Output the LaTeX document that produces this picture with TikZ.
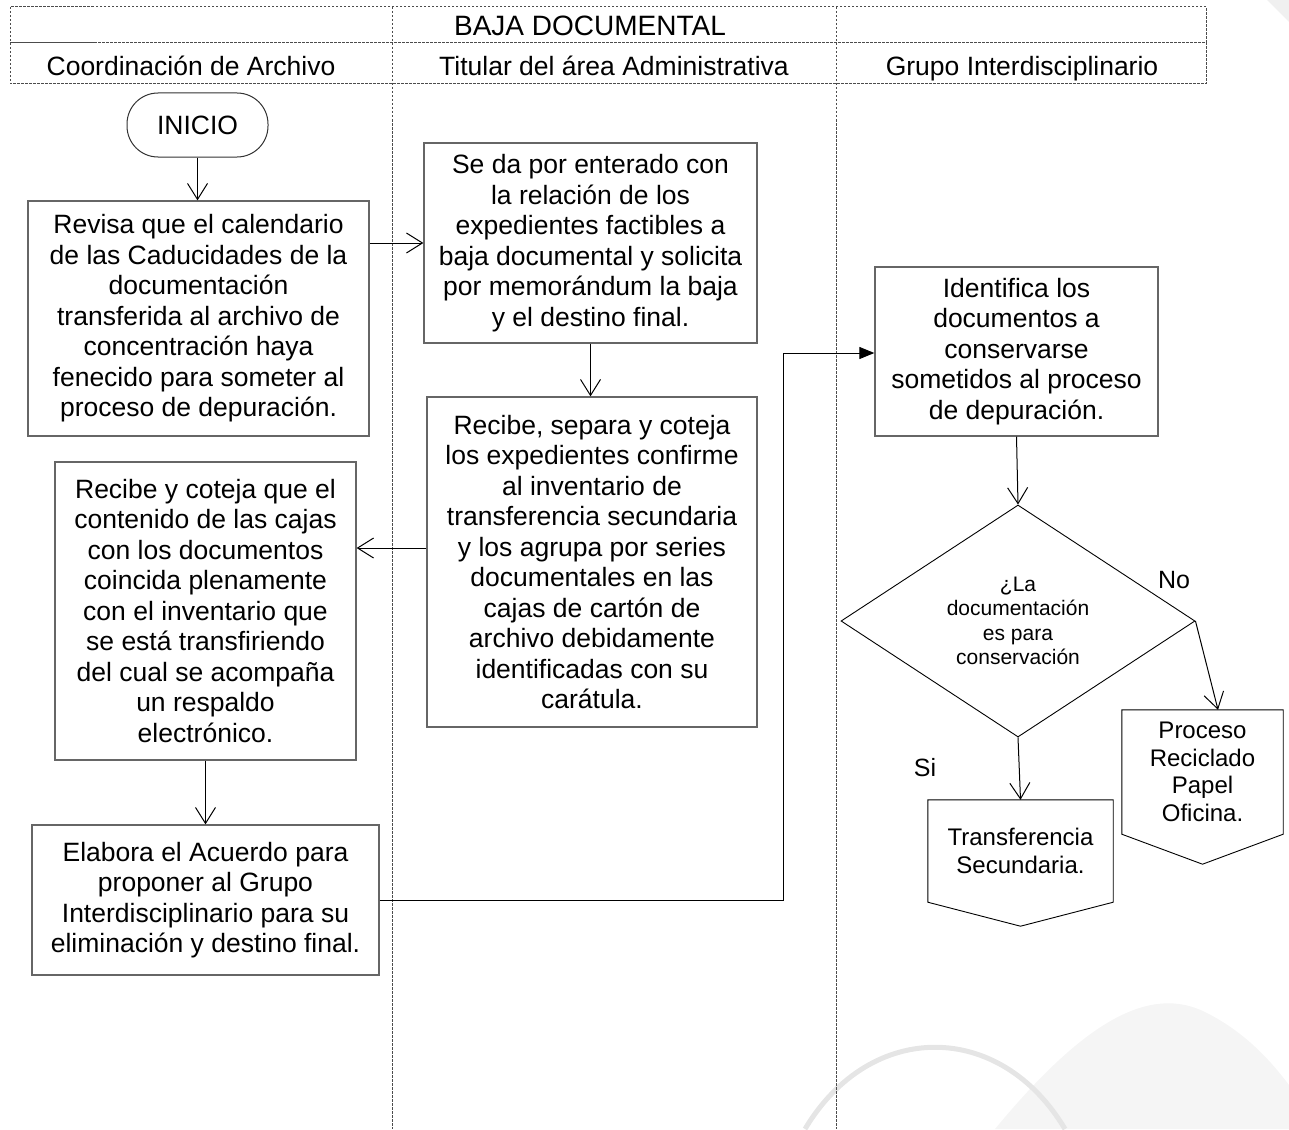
\documentclass[tikz,border=0pt]{standalone}
\usepackage{fontspec}
\setmainfont{Liberation Sans}
\usetikzlibrary{calc}
\usetikzlibrary{arrows.meta}
\usetikzlibrary{shapes.geometric}
\tikzset{
	lane/.style={draw=black!70, line width=1pt, dash pattern=on 2.5pt off 1.5pt},
	paso/.style={draw=black!60, line width=1.3pt, align=center, inner sep=2pt, font=\fontsize{26.5}{30.5}\selectfont},
	terminal/.style={draw=black!80, line width=1pt, rounded corners=31pt, minimum width=141pt, minimum height=64pt, font=\fontsize{26.5}{30.5}\selectfont},
	decision/.style={diamond, aspect=1.5, draw=black, line width=0.9pt, inner sep=0pt, minimum width=354pt, minimum height=232pt, align=center, font=\fontsize{21}{24.5}\selectfont},
	salida/.style={inner sep=0pt, align=center, font=\fontsize{24}{27.5}\selectfont},
	borde/.style={draw=black, line width=0.9pt},
	titulo/.style={inner sep=0pt, anchor=base, font=\fontsize{26.5}{30}\selectfont},
	etiqueta/.style={inner sep=0pt, font=\fontsize{25}{28}\selectfont},
	flujo/.style={draw=black, line width=1pt, -{Straight Barb[length=16pt,width=20pt]}},
	enlace/.style={draw=black, line width=1pt, -{Triangle[length=15pt,width=12pt]}},
}
\begin{document}
\begin{tikzpicture}[x=1pt,y=-1pt]
	\useasboundingbox (0,0) rectangle (1289,1129);
	% fondo
	\fill[black!4] (995,1129) .. controls (1085,1020) and (1150,985) .. (1205,1012) .. controls (1245,1032) and (1270,1060) .. (1289,1085) -- (1289,1129) -- cycle;
	\draw[black!10, line width=5pt] (805,1129) .. controls (870,1020) and (1000,1020) .. (1065,1129);
	\fill[black!6] (1267,0) -- (1289,0) -- (1289,22) -- cycle;
	% carriles
	\draw[lane] (10,7) rectangle (1206,43);
	\draw[lane] (10,43) rectangle (1206,84);
	\draw[lane] (392,7) -- (392,1129);
	\draw[lane] (836,7) -- (836,1129);
	\node[titulo, font=\fontsize{28}{30}\selectfont] (baja) at (590,36) {BAJA DOCUMENTAL};
	\node[titulo] (coord) at (191,76) {Coordinación de Archivo};
	\node[titulo] (titular) at (614,76) {Titular del área Administrativa};
	\node[titulo] (grupo) at (1022,76) {Grupo Interdisciplinario};
	% pasos
	\node[terminal] (inicio) at (197.5,125) {INICIO};
	\node[paso, minimum width=341pt, minimum height=235pt] (revisa) at (198.5,318.5) {Revisa que el calendario\\de las Caducidades de la\\documentación\\transferida al archivo de\\concentración haya\\fenecido para someter al\\proceso de depuración.};
	\node[paso, minimum width=333pt, minimum height=200pt] (enterado) at (590.5,243) {Se da por enterado con\\la relación de los\\expedientes factibles a\\baja documental y solicita\\por memorándum la baja\\y el destino final.};
	\node[paso, minimum width=330pt, minimum height=330pt] (separa) at (592,562) {Recibe, separa y coteja\\los expedientes confirme\\al inventario de\\transferencia secundaria\\y los agrupa por series\\documentales en las\\cajas de cartón de\\archivo debidamente\\identificadas con su\\carátula.};
	\node[paso, minimum width=301pt, minimum height=298pt] (coteja) at (205.5,611) {Recibe y coteja que el\\contenido de las cajas\\con los documentos\\coincida plenamente\\con el inventario que\\se está transfiriendo\\del cual se acompaña\\un respaldo\\electrónico.};
	\node[paso, minimum width=347pt, minimum height=150pt] (elabora) at (205.5,900) {Elabora el Acuerdo para\\proponer al Grupo\\Interdisciplinario para su\\eliminación y destino final.};
	\node[paso, minimum width=283pt, minimum height=169pt] (identifica) at (1016.5,351.5) {Identifica los\\documentos a\\conservarse\\sometidos al proceso\\de depuración.};
	\node[decision] (conserva) at (1018,621) {¿La\\documentación\\es para\\conservación};
	\node[salida, minimum width=185pt, minimum height=102pt] (transfer) at (1020.5,851) {Transferencia\\Secundaria.};
	\draw[borde] (transfer.north west) -- (transfer.north east) -- (transfer.south east) -- ($(transfer.south)+(0,24)$) -- (transfer.south west) -- cycle;
	\node[salida, minimum width=161pt, minimum height=124pt] (reciclado) at (1202.5,772) {Proceso\\Reciclado\\Papel\\Oficina.};
	\draw[borde] (reciclado.north west) -- (reciclado.north east) -- (reciclado.south east) -- ($(reciclado.south)+(0,30)$) -- (reciclado.south west) -- cycle;
	\node[etiqueta] (no) at (1174,580) {No};
	\node[etiqueta] (si) at (925,768) {Si};
	% conexiones
	\coordinate (quiebre) at (783,353);
	\draw[flujo] (inicio.south) -- (inicio.south |- revisa.north);
	\draw[flujo] (enterado.west -| revisa.east) -- (enterado.west);
	\draw[flujo] (enterado.south) -- (enterado.south |- separa.north);
	\draw[flujo] ([yshift=14pt]separa.west) -- ([yshift=14pt]separa.west -| coteja.east);
	\draw[flujo] (coteja.south) -- (elabora.north);
	\draw[enlace] (elabora.east) -| (quiebre) -- (quiebre -| identifica.west);
	\draw[flujo] (identifica.south) -- (conserva.north);
	\draw[flujo] (conserva.south) -- (transfer.north);
	\draw[flujo] (conserva.east) -- ([xshift=15.5pt]reciclado.north);
\end{tikzpicture}
\end{document}
